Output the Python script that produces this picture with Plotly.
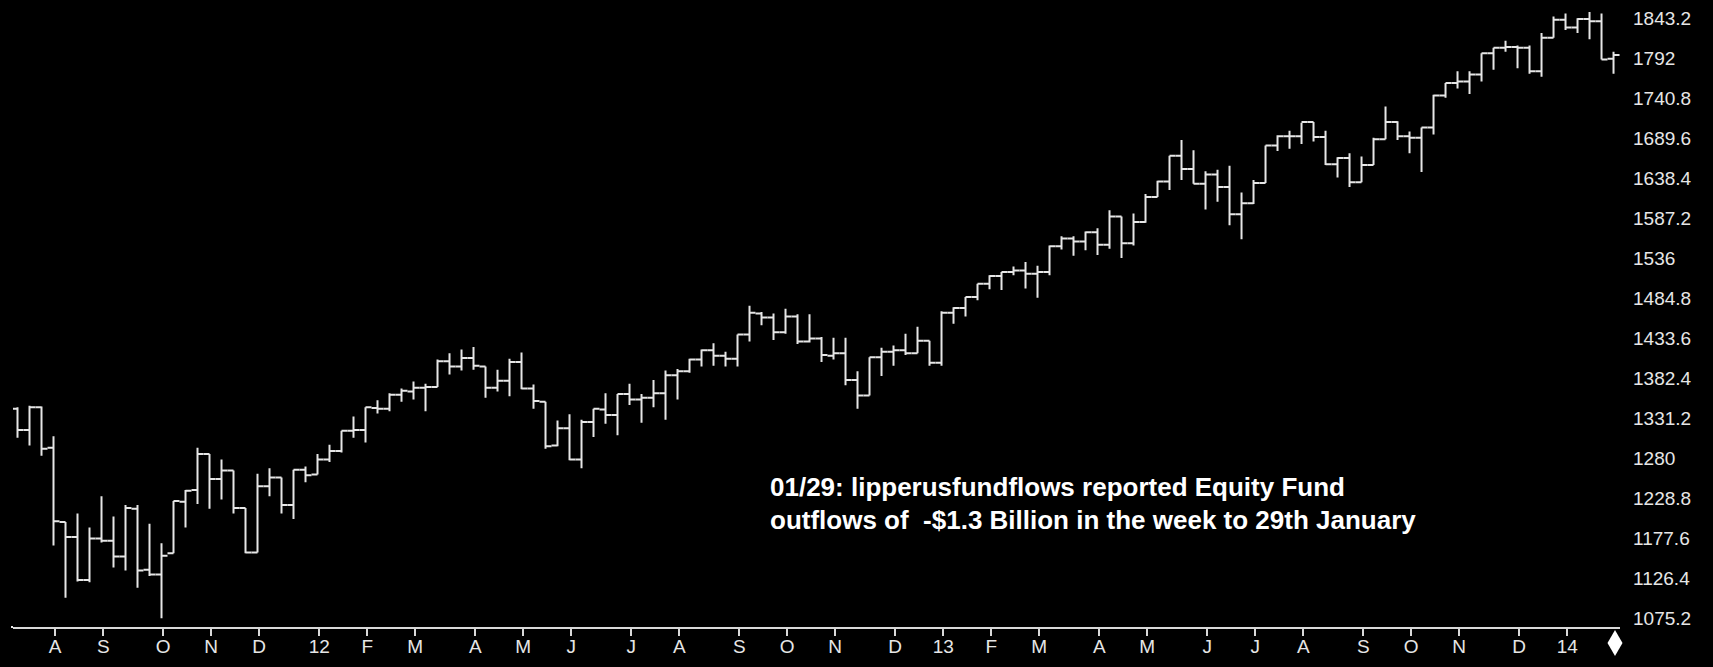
import pandas as pd
import plotly.graph_objects as go

# Weekly S&P 500 bars (week ending dates), Jul 2011 - Jan 2014
week_ending = pd.date_range("2011-07-15", periods=134, freq="7D")

opens = [1343, 1316, 1345, 1293, 1198, 1179, 1124, 1177, 1174, 1154,
         1215, 1137, 1131, 1158, 1224, 1239, 1285, 1253, 1264, 1216,
         1159, 1244, 1255, 1220, 1265, 1259, 1278, 1289, 1315, 1316,
         1344, 1343, 1361, 1365, 1370, 1371, 1404, 1397, 1408, 1397,
         1370, 1379, 1403, 1369, 1352, 1296, 1318, 1278, 1326, 1342,
         1335, 1362, 1355, 1357, 1363, 1386, 1391, 1406, 1418, 1411,
         1407, 1438, 1465, 1460, 1441, 1461, 1429, 1433, 1411, 1414,
         1380, 1360, 1409, 1416, 1418, 1414, 1430, 1402, 1466, 1472,
         1486, 1503, 1513, 1518, 1520, 1516, 1518, 1551, 1561, 1557,
         1569, 1553, 1589, 1555, 1582, 1614, 1634, 1667, 1650, 1631,
         1643, 1627, 1592, 1606, 1632, 1680, 1692, 1692, 1710, 1691,
         1656, 1664, 1633, 1655, 1688, 1710, 1692, 1690, 1703, 1744,
         1760, 1762, 1771, 1798, 1805, 1806, 1805, 1775, 1818, 1841,
         1831, 1842, 1839, 1791]
highs = [1345, 1347, 1346, 1308, 1198, 1209, 1191, 1231, 1205, 1220,
         1220, 1196, 1171, 1225, 1239, 1293, 1285, 1278, 1264, 1216,
         1260, 1267, 1255, 1265, 1269, 1285, 1297, 1315, 1333, 1345,
         1354, 1363, 1369, 1378, 1375, 1406, 1414, 1419, 1422, 1397,
         1393, 1407, 1415, 1374, 1352, 1328, 1336, 1329, 1343, 1363,
         1362, 1375, 1362, 1380, 1392, 1394, 1407, 1419, 1427, 1416,
         1438, 1475, 1467, 1465, 1471, 1464, 1464, 1435, 1434, 1434,
         1391, 1409, 1421, 1424, 1439, 1448, 1430, 1468, 1473, 1486,
         1503, 1514, 1518, 1525, 1531, 1526, 1552, 1564, 1564, 1570,
         1574, 1597, 1589, 1593, 1618, 1635, 1667, 1687, 1674, 1647,
         1649, 1654, 1620, 1636, 1680, 1693, 1699, 1709, 1710, 1699,
         1665, 1670, 1666, 1690, 1730, 1711, 1698, 1703, 1745, 1760,
         1775, 1775, 1798, 1805, 1814, 1808, 1808, 1824, 1845, 1849,
         1843, 1851, 1849, 1800]
lows = [1306, 1296, 1283, 1168, 1101, 1122, 1121, 1172, 1140, 1136,
        1114, 1129, 1075, 1158, 1191, 1221, 1215, 1227, 1209, 1158,
        1159, 1231, 1209, 1202, 1249, 1259, 1275, 1287, 1306, 1300,
        1337, 1340, 1352, 1355, 1340, 1371, 1387, 1392, 1393, 1357,
        1365, 1359, 1368, 1343, 1292, 1295, 1277, 1267, 1307, 1324,
        1309, 1348, 1325, 1345, 1329, 1355, 1389, 1397, 1398, 1397,
        1397, 1429, 1450, 1431, 1439, 1426, 1428, 1403, 1406, 1373,
        1343, 1360, 1385, 1398, 1412, 1414, 1398, 1398, 1452, 1461,
        1482, 1496, 1495, 1514, 1497, 1485, 1514, 1547, 1539, 1546,
        1540, 1548, 1536, 1552, 1581, 1614, 1623, 1636, 1631, 1598,
        1608, 1578, 1560, 1605, 1632, 1673, 1676, 1682, 1685, 1655,
        1639, 1627, 1633, 1655, 1688, 1687, 1670, 1646, 1694, 1741,
        1753, 1746, 1762, 1777, 1800, 1779, 1772, 1768, 1818, 1828,
        1824, 1816, 1790, 1772]
closes = [1316, 1345, 1292, 1199, 1179, 1124, 1177, 1174, 1154, 1216,
          1136, 1131, 1155, 1225, 1238, 1285, 1253, 1264, 1216, 1159,
          1244, 1255, 1220, 1265, 1258, 1278, 1289, 1315, 1316, 1345,
          1343, 1361, 1366, 1370, 1371, 1404, 1397, 1408, 1398, 1370,
          1379, 1403, 1369, 1353, 1295, 1318, 1278, 1326, 1343, 1335,
          1362, 1355, 1357, 1363, 1386, 1391, 1406, 1418, 1411, 1407,
          1438, 1466, 1460, 1441, 1461, 1429, 1433, 1412, 1414, 1380,
          1360, 1409, 1416, 1418, 1414, 1430, 1402, 1466, 1472, 1486,
          1503, 1513, 1518, 1520, 1516, 1518, 1551, 1561, 1557, 1569,
          1553, 1589, 1555, 1582, 1614, 1634, 1667, 1650, 1631, 1643,
          1627, 1592, 1606, 1632, 1680, 1692, 1692, 1710, 1691, 1656,
          1664, 1633, 1655, 1688, 1710, 1692, 1690, 1703, 1744, 1760,
          1762, 1771, 1798, 1805, 1806, 1805, 1775, 1818, 1841, 1831,
          1842, 1839, 1790, 1796]

month_tick_dates = ["2011-08-05", "2011-09-02", "2011-10-07", "2011-11-04", "2011-12-02",
                    "2012-01-06", "2012-02-03", "2012-03-02", "2012-04-06", "2012-05-04",
                    "2012-06-01", "2012-07-06", "2012-08-03", "2012-09-07", "2012-10-05",
                    "2012-11-02", "2012-12-07", "2013-01-04", "2013-02-01", "2013-03-01",
                    "2013-04-05", "2013-05-03", "2013-06-07", "2013-07-05", "2013-08-02",
                    "2013-09-06", "2013-10-04", "2013-11-01", "2013-12-06", "2014-01-03"]
month_tick_labels = ["A", "S", "O", "N", "D", "12", "F", "M", "A", "M", "J", "J", "A", "S",
                     "O", "N", "D", "13", "F", "M", "A", "M", "J", "J", "A", "S", "O", "N",
                     "D", "14"]

price_ticks = [1075.2, 1126.4, 1177.6, 1228.8, 1280, 1331.2, 1382.4, 1433.6, 1484.8,
               1536, 1587.2, 1638.4, 1689.6, 1740.8, 1792, 1843.2]
price_tick_labels = ["1075.2", "1126.4", "1177.6", "1228.8", "1280", "1331.2", "1382.4",
                     "1433.6", "1484.8", "1536", "1587.2", "1638.4", "1689.6", "1740.8",
                     "1792", "1843.2"]

note_line1 = "01/29: lipperusfundflows reported Equity Fund"
note_line2 = "outflows of\u00a0 -$1.3 Billion in the week to 29th January"

FG = "#e6e6e6"
FONT = "Liberation Sans, Arial, sans-serif"
PW, PH, ML = 1607, 627, 13  # plot-area size and left margin in px


def px_x(px):
    return (px - ML) / PW


def px_y(py):
    return 1 - py / PH


fig = go.Figure()
fig.add_trace(go.Ohlc(
    x=week_ending, open=opens, high=highs, low=lows, close=closes,
    increasing=dict(line=dict(color=FG, width=2)),
    decreasing=dict(line=dict(color=FG, width=2)),
    tickwidth=0.5, showlegend=False, hoverinfo="skip",
))

t0 = week_ending[0]
x_start = t0 - pd.Timedelta(days=0.375 * 7)
x_end = t0 + pd.Timedelta(days=133.54 * 7)

tick_x = list(pd.to_datetime(month_tick_dates) + pd.Timedelta(days=1))

# end-of-data diamond marker under the last bar
dx, dy, cx, cy = 7.5, 13, 1615, 643
diamond = (f"M{px_x(cx)},{px_y(cy - dy)} L{px_x(cx + dx)},{px_y(cy)} "
           f"L{px_x(cx)},{px_y(cy + dy)} L{px_x(cx - dx)},{px_y(cy)} Z")

fig.update_layout(
    width=1713, height=667,
    paper_bgcolor="#000000", plot_bgcolor="#000000",
    margin=dict(l=ML, r=1713 - ML - PW, t=0, b=667 - PH),
    showlegend=False,
    font=dict(family=FONT, color=FG),
    xaxis=dict(
        type="date", range=[x_start, x_end],
        rangeslider=dict(visible=False),
        tickvals=tick_x, ticktext=month_tick_labels,
        showgrid=False, zeroline=False,
        showline=True, linecolor="#d8d8d8", linewidth=2,
        ticks="", ticklen=0,
        minor=dict(tickvals=tick_x, ticks="outside", ticklen=7, tickwidth=1.5,
                   tickcolor="#d8d8d8", showgrid=False),
        tickfont=dict(family=FONT, size=19, color=FG),
        ticklabelstandoff=1,
        fixedrange=True,
    ),
    yaxis=dict(
        side="right", range=[1063.7, 1866.24],
        tickvals=price_ticks, ticktext=price_tick_labels,
        showgrid=False, zeroline=False, showline=False,
        ticks="", ticklabelstandoff=12,
        tickfont=dict(family=FONT, size=19, color=FG),
        fixedrange=True,
    ),
    annotations=[
        dict(xref="paper", yref="paper", x=px_x(768), y=px_y(487),
             xanchor="left", yanchor="middle", showarrow=False, text=note_line1,
             font=dict(family=FONT, size=26, color="#ffffff", weight="bold")),
        dict(xref="paper", yref="paper", x=px_x(768), y=px_y(520),
             xanchor="left", yanchor="middle", showarrow=False, text=note_line2,
             font=dict(family=FONT, size=26, color="#ffffff", weight="bold")),
    ],
    shapes=[
        dict(type="rect", xref="paper", yref="paper",
             x0=px_x(11), x1=px_x(13), y0=px_y(628), y1=px_y(626),
             fillcolor=FG, line=dict(width=0)),
        dict(type="path", xref="paper", yref="paper", path=diamond,
             fillcolor="#ffffff", line=dict(width=0)),
    ],
)

fig.write_html(
    "out.html",
    config=dict(displayModeBar=False),
    post_script="document.body.style.margin='0';document.body.style.padding='0';"
                "document.body.style.overflow='hidden';",
)
